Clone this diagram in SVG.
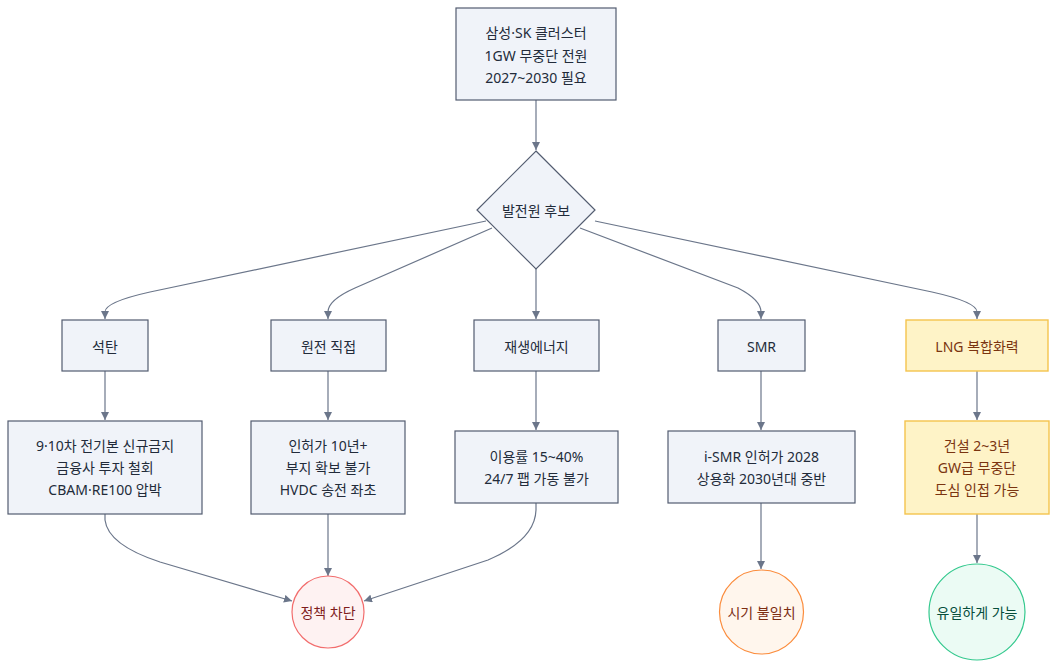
<svg xmlns="http://www.w3.org/2000/svg" width="1058" height="668" viewBox="0 0 1058 668">
<defs>
<style>
text{font-family:"Noto Sans","Noto Sans CJK KR",sans-serif;font-size:14px;fill:#222b3a;text-anchor:middle;dominant-baseline:central}
.n{fill:#f0f3f9;stroke:#535c70;stroke-width:1.2}
.g{fill:#fef3c7;stroke:#f4c34d;stroke-width:1.4}
.gt{fill:#7a3410}
.e{fill:none;stroke:#6b768a;stroke-width:1.2;marker-end:url(#a)}
</style>
<marker id="a" viewBox="0 0 10 10" refX="10" refY="5" markerWidth="8" markerHeight="8" markerUnits="userSpaceOnUse" orient="auto"><path d="M0,0L10,5L0,10z" fill="#6b768a"/></marker>
</defs>
<rect width="1058" height="668" fill="#fff"/>
<g id="edges">
<path class="e" d="M536,100L536,150"/>
<path class="e" d="M486,221L150,292Q105,302 105,312L105,319"/>
<path class="e" d="M492,228L355,288Q328,300 328,312L328,319"/>
<path class="e" d="M536,269L536,319"/>
<path class="e" d="M580,228L738,288Q761,300 761,312L761,319"/>
<path class="e" d="M595,221L932,292Q977,302 977,312L977,319"/>
<path class="e" d="M105,371L105,420"/>
<path class="e" d="M328,371L328,420"/>
<path class="e" d="M536,371L536,430"/>
<path class="e" d="M761,371L761,430"/>
<path class="e" d="M977,371L977,420"/>
<path class="e" d="M105,514L105,520Q108,545 160,562L292,601"/>
<path class="e" d="M328,514L328,576"/>
<path class="e" d="M536,503L536,510Q535,540 488,560L364,601"/>
<path class="e" d="M761,503L761,569"/>
<path class="e" d="M977,514L977,563"/>
</g>
<g id="top"><rect class="n" x="456" y="8" width="160" height="92"/><text x="536" y="32">삼성·SK 클러스터</text><text x="536" y="55">1GW 무중단 전원</text><text x="536" y="77">2027~2030 필요</text></g>
<g id="decision"><path class="n" d="M536,151L595,210L536,269L477,210z"/><text x="536" y="210">발전원 후보</text></g>
<g id="coal"><rect class="n" x="62" y="320" width="86" height="51"/><text x="105" y="346">석탄</text></g>
<g id="nuclear"><rect class="n" x="271" y="320" width="115" height="51"/><text x="328.5" y="346">원전 직접</text></g>
<g id="renew"><rect class="n" x="474" y="320" width="125" height="51"/><text x="536.5" y="346">재생에너지</text></g>
<g id="smr"><rect class="n" x="718" y="320" width="87" height="51"/><text x="761.5" y="346">SMR</text></g>
<g id="lng"><rect class="g" x="906" y="320" width="142" height="51"/><text class="gt" x="977" y="346">LNG 복합화력</text></g>
<g id="coalD"><rect class="n" x="8" y="421" width="194" height="93"/><text x="105" y="445">9·10차 전기본 신규금지</text><text x="105" y="467">금융사 투자 철회</text><text x="105" y="489">CBAM·RE100 압박</text></g>
<g id="nucD"><rect class="n" x="251" y="421" width="154" height="93"/><text x="328" y="445">인허가 10년+</text><text x="328" y="467">부지 확보 불가</text><text x="328" y="489">HVDC 송전 좌초</text></g>
<g id="renD"><rect class="n" x="455" y="431" width="163" height="72"/><text x="536.5" y="456">이용률 15~40%</text><text x="536.5" y="478">24/7 팹 가동 불가</text></g>
<g id="smrD"><rect class="n" x="668" y="431" width="187" height="72"/><text x="761.5" y="456">i-SMR 인허가 2028</text><text x="761.5" y="478">상용화 2030년대 중반</text></g>
<g id="lngD"><rect class="g" x="905" y="421" width="144" height="93"/><text class="gt" x="977" y="445">건설 2~3년</text><text class="gt" x="977" y="467">GW급 무중단</text><text class="gt" x="977" y="489">도심 인접 가능</text></g>
<g id="block"><circle cx="328" cy="612" r="36" fill="#fef2f2" stroke="#f26d6d" stroke-width="1.2"/><text x="328" y="612" style="fill:#7f1d1d">정책 차단</text></g>
<g id="timing"><circle cx="761.5" cy="612" r="42" fill="#fff6ed" stroke="#fb8c3c" stroke-width="1.2"/><text x="761.5" y="612" style="fill:#7c2d12">시기 불일치</text></g>
<g id="only"><circle cx="977" cy="612" r="48" fill="#ebfbf4" stroke="#34c98e" stroke-width="1.2"/><text x="977" y="612" style="fill:#064e3b">유일하게 가능</text></g>
</svg>
